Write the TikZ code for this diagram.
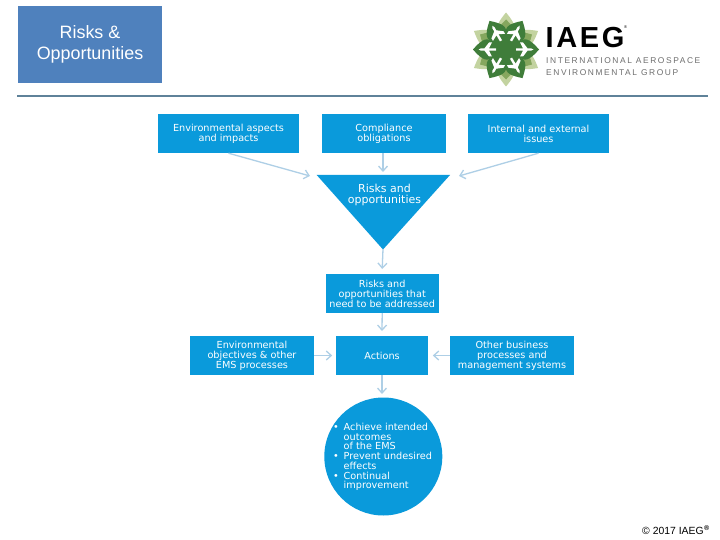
\documentclass[tikz,border=0pt]{standalone}
\usepackage{fontspec}
\setmainfont{Liberation Sans}
\newfontfamily\boxfont{DejaVu Sans}
\newfontfamily\logofont[LetterSpace=19]{Liberation Sans}
\newfontfamily\logobig[LetterSpace=9]{Liberation Sans}
\usetikzlibrary{arrows.meta}
\definecolor{boxblue}{HTML}{0A9ADB}
\definecolor{arrowblue}{HTML}{AECFE6}
\definecolor{titleblue}{HTML}{4F81BD}
\definecolor{rulecol}{HTML}{5F8299}
\definecolor{leafdark}{HTML}{3F7D3A}
\definecolor{leafmid}{HTML}{86A75E}
\definecolor{leaflight}{HTML}{C3D3A0}
\definecolor{greytext}{HTML}{6E6E6E}
\tikzset{
  flowbox/.style={fill=boxblue,inner sep=0pt,text=white,align=center,font=\boxfont\fontsize{9.7}{10}\selectfont},
  flowarrow/.style={draw=arrowblue,line width=1.3pt,-{Straight Barb[length=5pt,width=9pt]}},
}
\begin{document}
\begin{tikzpicture}[x=1pt,y=-1pt]
\useasboundingbox (0,0) rectangle (720,540);
\fill[white] (0,0) rectangle (720,540);
% title
\node[fill=titleblue,minimum width=144pt,minimum height=77pt,inner sep=0pt,text=white,align=center,
  font=\fontsize{17.9}{21}\selectfont] (title) at (90,44.5) {Risks \&\\Opportunities};
\coordinate (ruleL) at (17,96); \coordinate (ruleR) at (708,96);
\draw[rulecol,line width=1.6pt] (ruleL) -- (ruleR);
% logo
\begin{scope}[shift={(506,49.5)}]
\foreach \a in {30,90,...,330} \fill[leaflight,rotate=\a] (0,0) .. controls (12,-16) and (24,-11) .. (37,0) .. controls (24,11) and (12,16) .. (0,0) -- cycle;
\foreach \a in {30,90,...,330} \fill[leafmid,rotate=\a] (0,0) .. controls (10,-14) and (20,-11) .. (30,0) .. controls (20,11) and (10,14) .. (0,0) -- cycle;
\fill[leafdark] (0,0) circle (17.5);
\foreach \a in {0,60,...,300} \fill[leafdark,rotate=\a] (14.7,-8.5) .. controls (20,-13) and (26,-8) .. (33,0) .. controls (26,8) and (20,13) .. (14.7,8.5) -- cycle;
\foreach \a in {0,60,...,300} \fill[white,rotate=\a] (10,-1.2) -- (17,-1.2) -- (14,-7) -- (17,-7) -- (21.5,-1.2) -- (25,-1.2) -- (27.5,0) -- (25,1.2) -- (21.5,1.2) -- (17,7) -- (14,7) -- (17,1.2) -- (10,1.2) -- cycle;
\fill[leafdark] (0,0) circle (9.5);
\end{scope}
\node[anchor=base west,inner sep=0pt,font=\logobig\fontsize{29}{29}\bfseries\selectfont,text=black] (logoname) at (545.5,48) {IAEG};
\node[anchor=base west,inner sep=0pt,font=\fontsize{4}{4}\selectfont,text=black] (logoreg) at (624,29) {®};
\node[anchor=base west,inner sep=0pt,font=\logofont\fontsize{8.4}{8}\selectfont,text=greytext] (logol1) at (546,64) {INTERNATIONAL AEROSPACE};
\node[anchor=base west,inner sep=0pt,font=\logofont\fontsize{8.4}{8}\selectfont,text=greytext] (logol2) at (546,76) {ENVIRONMENTAL GROUP};
% boxes
\node[flowbox,minimum width=141pt,minimum height=39pt] (env) at (228.5,133.5) {Environmental aspects\\and impacts};
\node[flowbox,minimum width=124pt,minimum height=39pt] (comp) at (384,133.5) {Compliance\\obligations};
\node[flowbox,minimum width=141pt,minimum height=39pt] (iss) at (538.5,133.5) {Internal and external\\issues};
\fill[boxblue] (316.7,175) -- (450,175) -- (383,249.5) -- cycle;
\coordinate (triL) at (310,176); \coordinate (triT) at (383,172); \coordinate (triR) at (459,176); \coordinate (triB) at (383,249);
\node[inner sep=0pt,text=white,align=center,font=\boxfont\fontsize{11}{10.4}\selectfont] (risk) at (384.5,195) {Risks and\\opportunities};
\node[flowbox,minimum width=113pt,minimum height=39pt] (need) at (382.2,293.5) {Risks and\\opportunities that\\need to be addressed};
\node[flowbox,minimum width=92pt,minimum height=39pt] (act) at (382,355.5) {Actions};
\node[flowbox,minimum width=124pt,minimum height=39pt] (obj) at (252,355.5) {Environmental\\objectives \& other\\EMS processes};
\node[flowbox,minimum width=124pt,minimum height=39pt] (oth) at (512,355.5) {Other business\\processes and\\management systems};
\node[circle,fill=boxblue,minimum size=118pt,inner sep=0pt] (goal) at (383.3,456.5) {};
\node[anchor=west,inner sep=0pt,text=white,align=left,font=\boxfont\fontsize{9.7}{9.75}\selectfont] (goaltext) at (333,457)
 {\makebox[10.5pt][l]{•}Achieve intended\\\hspace*{10.5pt}outcomes\\\hspace*{10.5pt}of the EMS\\\makebox[10.5pt][l]{•}Prevent undesired\\\hspace*{10.5pt}effects\\\makebox[10.5pt][l]{•}Continual\\\hspace*{10.5pt}improvement};
% connectors
\draw[flowarrow] (env.south) -- (triL);
\draw[flowarrow] (comp.south -| triT) -- (triT);
\draw[flowarrow] (iss.south) -- (triR);
\draw[flowarrow] (triB) -- (need.north |- 0,269);
\draw[flowarrow] (need.south) -- (act.north |- 0,331);
\draw[flowarrow] (obj.east) -- ++(18,0);
\draw[flowarrow] (oth.west) -- ++(-17,0);
\draw[flowarrow] (act.south) -- (act.south |- 0,394);
% footer
\node[anchor=base west,inner sep=0pt,font=\fontsize{10.4}{10}\selectfont,text=black] (foot) at (642,534) {© 2017 IAEG};
\node[anchor=base west,inner sep=0pt,font=\fontsize{7}{7}\bfseries\selectfont,text=black] (footreg) at (704,530) {®};
\end{tikzpicture}
\end{document}
